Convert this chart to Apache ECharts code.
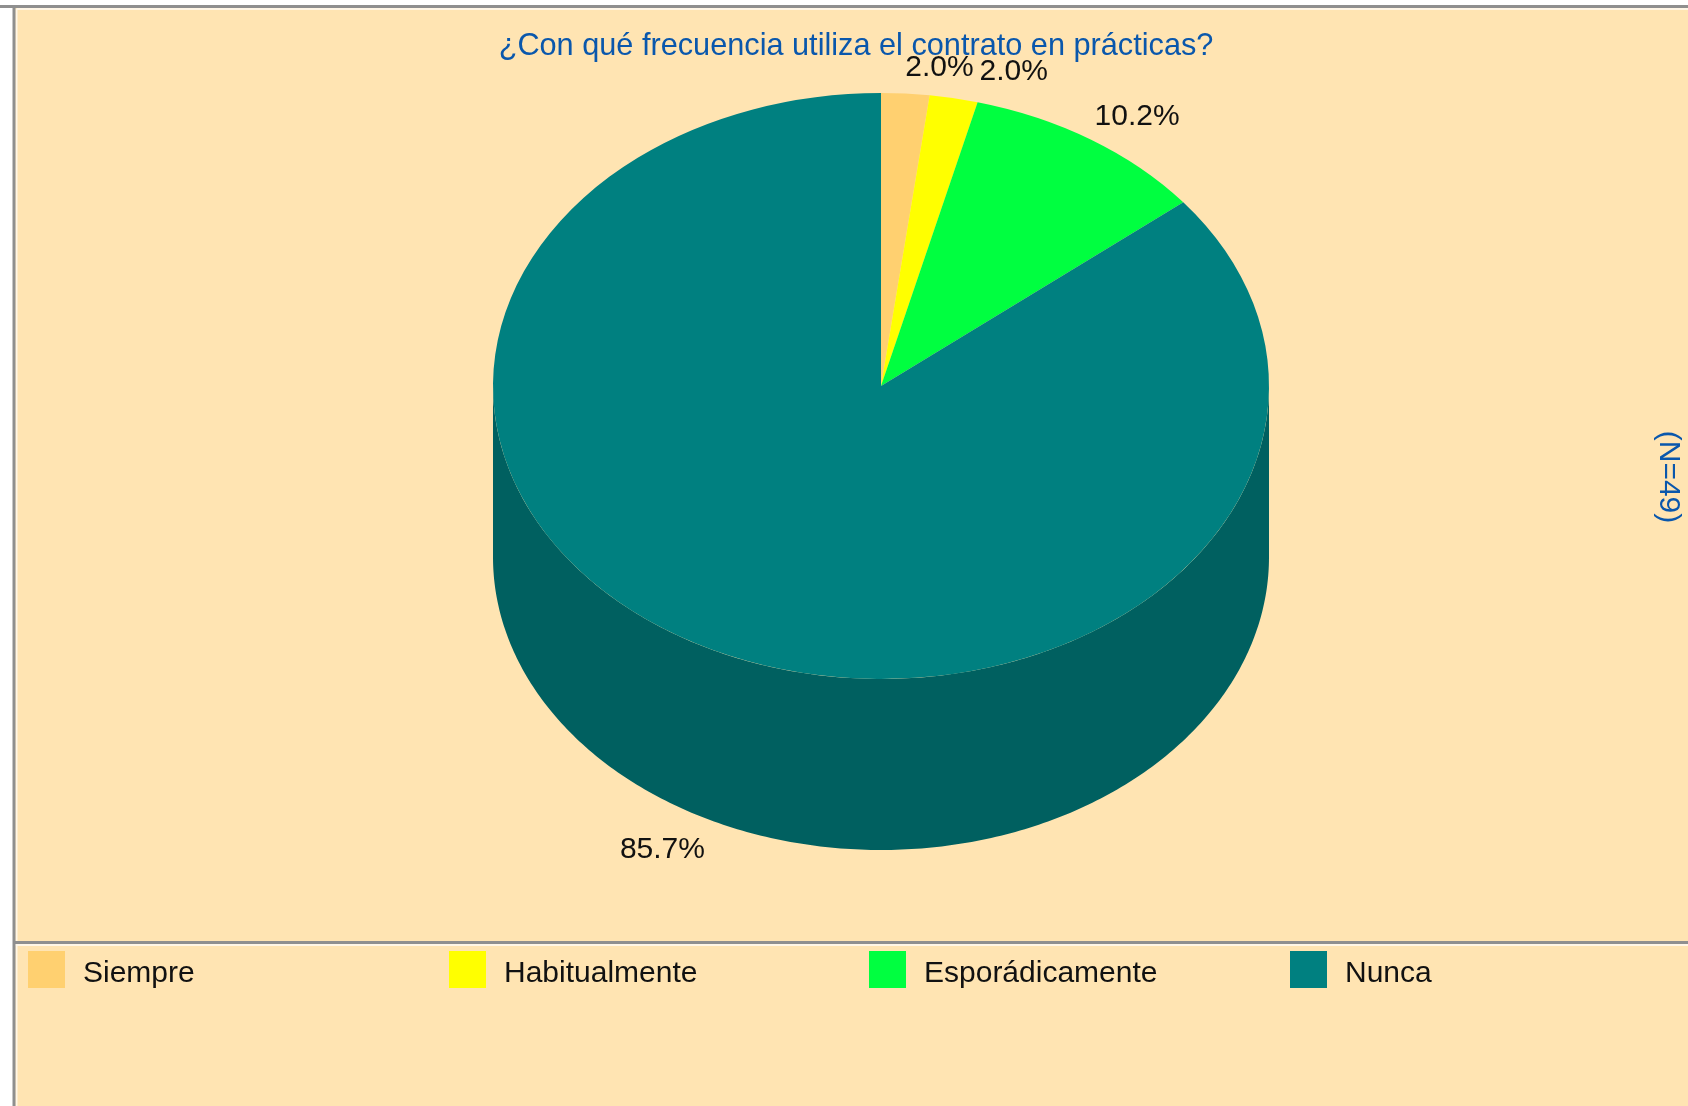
<!DOCTYPE html>
<html><head><meta charset="utf-8">
<style>html,body{margin:0;padding:0;background:#fff}#c{width:1688px;height:1106px}</style>
<script src="https://cdn.jsdelivr.net/npm/echarts@6/dist/echarts.min.js"></script>
</head><body><div id="c"></div>
<script>
const categories = ['Siempre', 'Habitualmente', 'Esporádicamente', 'Nunca'];
const values = [2.0, 2.0, 10.2, 85.7];
const colors = ['#FFD070', '#FFFF00', '#00FF40', '#008080'];
const sideColors = ['#B39250', '#B3B300', '#00B32D', '#006060'];
const titleText = '¿Con qué frecuencia utiliza el contrato en prácticas?';
const sideText = '(N=49)';

const CX = 881, CY = 386, RX = 388, RY = 293, DEPTH = 171;
const FONT = '"Liberation Sans", Arial, sans-serif';
const labelOffsets = [[34, -26], [60, -26], [46, -23], [-51, 28]];
const legendLeft = [28, 449, 869, 1290];
const total = values.reduce((a, b) => a + b, 0);

function rim(a, dy) {
  return [CX + RX * Math.sin(a), CY + dy - RY * Math.cos(a)];
}
function makeSeries(i) {
  return {
    type: 'custom', name: categories[i], coordinateSystem: 'none', silent: true,
    itemStyle: { color: colors[i] },
    data: [[values[i]]],
    z: 2,
    renderItem(params, api) {
      const before = values.slice(0, i).reduce((a, b) => a + b, 0);
      const a0 = before / total * 2 * Math.PI;
      const a1 = a0 + api.value(0) / total * 2 * Math.PI;
      const mid = (a0 + a1) / 2;
      const children = [];
      // side wall: only the part of the rim on the front half
      const s0 = Math.max(a0, Math.PI / 2), s1 = Math.min(a1, Math.PI * 1.5);
      if (s1 > s0) {
        const top = [], bottom = [];
        for (let k = 0; k <= 240; k++) {
          const a = s0 + (s1 - s0) * k / 240;
          top.push(rim(a, 0));
          bottom.unshift(rim(a, DEPTH));
        }
        children.push({ type: 'polygon', shape: { points: top.concat(bottom) }, style: { fill: sideColors[i] } });
      }
      // top face: a circular sector squashed into the ellipse
      children.push({
        type: 'sector',
        x: CX, y: CY, scaleY: RY / RX,
        shape: { cx: 0, cy: 0, r0: 0, r: RX, startAngle: a0 - Math.PI / 2, endAngle: a1 - Math.PI / 2, clockwise: true },
        style: { fill: colors[i] }
      });
      const anchor = rim(mid, mid > Math.PI / 2 && mid < Math.PI * 1.5 ? DEPTH : 0);
      children.push({
        type: 'text', z2: 10,
        x: anchor[0] + labelOffsets[i][0], y: anchor[1] + labelOffsets[i][1],
        style: { text: api.value(0).toFixed(1) + '%', fill: '#111', font: '30px ' + FONT, align: 'center', verticalAlign: 'middle' }
      });
      return { type: 'group', children };
    }
  };
}

const chart = echarts.init(document.getElementById('c'), null, { renderer: 'canvas' });
chart.setOption({
  animation: false,
  backgroundColor: '#FFFFFF',
  title: { text: titleText, left: 851, top: 26, textAlign: 'center',
    textStyle: { color: '#0A57AC', fontFamily: FONT, fontWeight: 'normal', fontSize: 30.7 } },
  legend: categories.map((c, i) => ({
    data: [c], left: legendLeft[i], top: 951, orient: 'horizontal', padding: 0,
    itemWidth: 37, itemHeight: 37, itemGap: 0, icon: 'rect', selectedMode: false,
    itemStyle: { borderWidth: 0 },
    formatter: '{a|{name}}',
    textStyle: { color: '#111', fontFamily: FONT, fontSize: 30,
      rich: { a: { color: '#111', fontFamily: FONT, fontSize: 30, lineHeight: 32, verticalAlign: 'top', padding: [5, 0, 0, 13] } } }
  })),
  graphic: [
    { type: 'rect', z: -10, silent: true, shape: { x: 14, y: 6, width: 1674, height: 1100 }, style: { fill: '#FFE4B2' } },
    { type: 'line', z: -6, silent: true, shape: { x1: 16.5, y1: 9, x2: 1688, y2: 9 }, style: { stroke: '#FFF6E6', lineWidth: 2 } },
    { type: 'line', z: -6, silent: true, shape: { x1: 16.5, y1: 9, x2: 16.5, y2: 1106 }, style: { stroke: '#FFF6E6', lineWidth: 2 } },
    { type: 'line', z: -6, silent: true, shape: { x1: 15, y1: 945, x2: 1688, y2: 945 }, style: { stroke: '#FFF6E6', lineWidth: 2 } },
    { type: 'line', z: -5, silent: true, shape: { x1: 0, y1: 6.5, x2: 1688, y2: 6.5 }, style: { stroke: '#8F8F8F', lineWidth: 3 } },
    { type: 'line', z: -5, silent: true, shape: { x1: 14, y1: 6, x2: 14, y2: 1106 }, style: { stroke: '#8F8F8F', lineWidth: 3 } },
    { type: 'line', z: -5, silent: true, shape: { x1: 14, y1: 942.5, x2: 1688, y2: 942.5 }, style: { stroke: '#8F8F8F', lineWidth: 3 } },
    { type: 'text', z: 5, silent: true, x: 1668, y: 477, rotation: -Math.PI / 2,
      style: { text: sideText, fill: '#0A57AC', font: '30px ' + FONT, align: 'center', verticalAlign: 'middle' } }
  ],
  series: categories.map((c, i) => makeSeries(i))
});
</script></body></html>
